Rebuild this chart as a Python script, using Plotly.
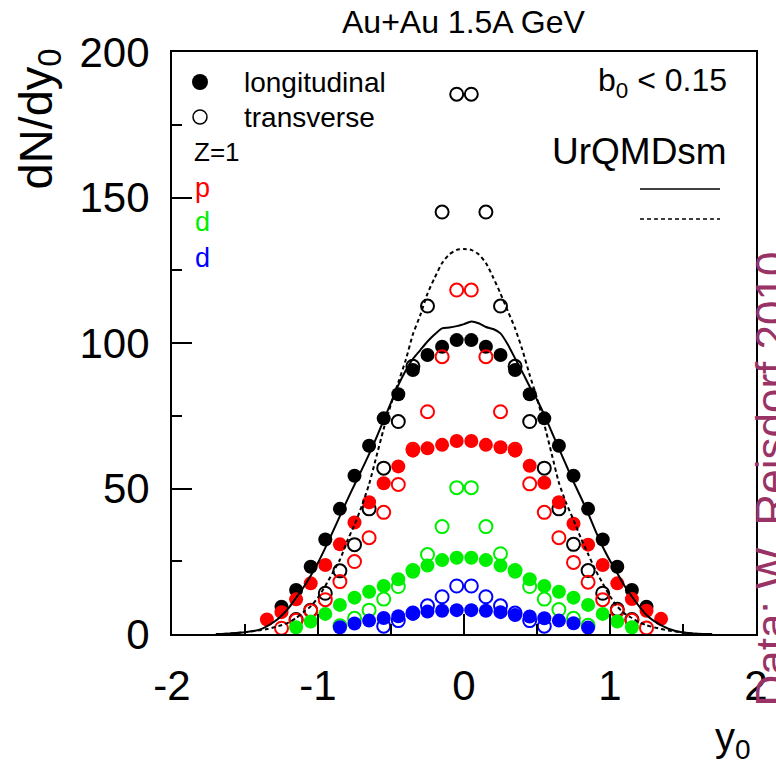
import plotly.graph_objects as go

# ---------------- data ----------------
x_black_long = [-1.25, -1.15, -1.05, -0.95, -0.85, -0.75, -0.65, -0.55, -0.45, -0.35, -0.25, -0.15, -0.05,
                0.05, 0.15, 0.25, 0.35, 0.45, 0.55, 0.65, 0.75, 0.85, 0.95, 1.05, 1.15, 1.25]
y_black_long = [9.4, 15.1, 23.1, 32.5, 43.0, 54.4, 64.7, 74.1, 82.4, 90.7, 95.9, 98.7, 101.0,
                101.0, 98.7, 95.9, 90.7, 82.4, 74.1, 64.7, 54.4, 43.0, 32.5, 23.1, 15.1, 9.4]

x_black_trans = [-1.15, -1.05, -0.95, -0.85, -0.75, -0.65, -0.55, -0.45, -0.35, -0.25, -0.15, -0.05,
                 0.05, 0.15, 0.25, 0.35, 0.45, 0.55, 0.65, 0.75, 0.85, 0.95, 1.05, 1.15]
y_black_trans = [5.0, 8.2, 14.0, 21.7, 30.7, 43.0, 57.0, 73.0, 92.0, 112.7, 145.0, 185.5,
                 185.5, 145.0, 112.7, 92.0, 73.0, 57.0, 43.0, 30.8, 21.8, 14.0, 8.5, 5.0]

x_p_long = [-1.35, -1.25, -1.15, -1.05, -0.95, -0.85, -0.75, -0.65, -0.55, -0.45, -0.35, -0.25, -0.15, -0.05,
            0.05, 0.15, 0.25, 0.35, 0.45, 0.55, 0.65, 0.75, 0.85, 0.95, 1.05, 1.15, 1.25, 1.35]
y_p_long = [5.0, 7.5, 11.9, 17.4, 23.7, 30.8, 38.3, 45.3, 51.8, 57.6, 63.0, 63.8, 65.0, 66.3,
            66.3, 65.0, 64.2, 63.0, 57.8, 52.0, 45.3, 37.9, 30.7, 23.7, 17.4, 12.0, 8.0, 5.2]

x_p_trans = [-1.25, -1.15, -1.05, -0.95, -0.85, -0.75, -0.65, -0.55, -0.45, -0.35, -0.25, -0.15, -0.05,
             0.05, 0.15, 0.25, 0.35, 0.45, 0.55, 0.65, 0.75, 0.85, 0.95, 1.05, 1.15, 1.25]
y_p_trans = [2.0, 4.7, 8.0, 11.8, 18.0, 24.9, 33.1, 41.8, 51.4, 63.5, 76.4, 95.3, 118.2,
             118.2, 95.3, 76.4, 63.5, 51.6, 41.8, 33.1, 24.6, 17.8, 11.8, 8.0, 4.7, 2.1]

x_d_long = [-1.15, -1.05, -0.95, -0.85, -0.75, -0.65, -0.55, -0.45, -0.35, -0.25, -0.15, -0.05,
            0.05, 0.15, 0.25, 0.35, 0.45, 0.55, 0.65, 0.75, 0.85, 0.95, 1.05, 1.15]
y_d_long = [2.3, 4.3, 6.9, 10.0, 12.5, 14.5, 16.5, 18.8, 21.4, 23.5, 25.4, 26.2,
            26.2, 25.4, 23.5, 21.4, 18.8, 16.5, 14.5, 12.5, 10.0, 6.9, 4.3, 2.3]

x_d_trans = [-0.85, -0.75, -0.65, -0.55, -0.45, -0.35, -0.25, -0.15, -0.05,
             0.05, 0.15, 0.25, 0.35, 0.45, 0.55, 0.65, 0.75, 0.85]
y_d_trans = [2.8, 5.4, 8.2, 12.0, 16.3, 21.8, 27.3, 36.9, 50.3,
             50.3, 36.9, 27.6, 21.8, 16.3, 12.0, 8.4, 5.4, 3.0]

x_t_long = [-0.85, -0.75, -0.65, -0.55, -0.45, -0.35, -0.25, -0.15, -0.05,
            0.05, 0.15, 0.25, 0.35, 0.45, 0.55, 0.65, 0.75, 0.85]
y_t_long = [2.3, 3.6, 4.6, 5.5, 6.1, 6.9, 7.7, 8.0, 8.2,
            8.2, 8.0, 7.5, 6.5, 6.0, 5.4, 4.6, 3.7, 2.2]

x_t_trans = [-0.55, -0.45, -0.35, -0.25, -0.15, -0.05, 0.05, 0.15, 0.25, 0.35, 0.45, 0.55]
y_t_trans = [2.7, 4.6, 7.2, 9.7, 12.8, 16.5, 16.5, 12.8, 9.7, 7.2, 4.6, 2.7]

x_model_long = [-1.7, -1.6, -1.5, -1.4, -1.3, -1.25, -1.2, -1.15, -1.1, -1.05, -1.0, -0.95, -0.9, -0.85,
                -0.8, -0.75, -0.7, -0.65, -0.6, -0.55, -0.5, -0.45, -0.4, -0.35, -0.3, -0.25, -0.2,
                -0.15, -0.1, -0.05, 0.0, 0.05, 0.1, 0.15, 0.2, 0.25, 0.3, 0.35, 0.4, 0.45, 0.5, 0.55,
                0.6, 0.65, 0.7, 0.75, 0.8, 0.85, 0.9, 0.95, 1.0, 1.05, 1.1, 1.15, 1.2, 1.25, 1.3,
                1.4, 1.5, 1.6, 1.7]
y_model_long = [0.0, 0.2, 0.6, 1.5, 4.2, 6.3, 9.0, 12.5, 16.0, 20.0, 24.5, 29.6, 35.0, 40.5,
                46.0, 51.3, 56.5, 61.8, 67.5, 73.5, 79.5, 85.5, 90.5, 94.5, 97.5, 100.5, 103.0,
                105.0, 105.3, 105.8, 106.5, 107.4, 106.8, 105.5, 104.8, 103.3, 99.5, 94.7, 90.0, 85.0, 80.5, 75.3,
                69.5, 63.8, 58.0, 52.3, 47.0, 41.5, 35.5, 30.0, 25.2, 20.9, 16.5, 12.9, 9.5, 6.5, 4.5,
                1.8, 0.5, 0.1, 0.0]

x_model_trans = [-1.65, -1.5, -1.4, -1.35, -1.25, -1.2, -1.15, -1.1, -1.05, -1.0, -0.95, -0.9, -0.85,
                 -0.8, -0.75, -0.7, -0.65, -0.6, -0.55, -0.5, -0.45, -0.4, -0.35, -0.3, -0.25, -0.2,
                 -0.15, -0.1, -0.05, 0.0, 0.05, 0.1, 0.15, 0.2, 0.25, 0.3, 0.35, 0.4, 0.45, 0.5, 0.55,
                 0.6, 0.65, 0.7, 0.75, 0.8, 0.85, 0.9, 0.95, 1.0, 1.05, 1.1, 1.15, 1.2, 1.25, 1.35,
                 1.4, 1.5, 1.6]
y_model_trans = [0.0, 0.6, 1.3, 1.7, 3.0, 4.0, 5.5, 7.5, 9.5, 12.5, 16.5, 21.0, 25.5,
                 32.0, 37.5, 44.0, 51.5, 61.0, 70.5, 79.0, 86.5, 94.0, 103.0, 109.5, 117.0, 122.5,
                 127.5, 130.5, 132.0, 132.3, 132.0, 130.5, 127.5, 122.5, 117.0, 111.0, 105.0, 97.6, 89.0, 81.0, 72.0,
                 62.0, 52.0, 45.0, 39.2, 33.0, 27.5, 22.0, 17.4, 13.0, 9.4, 7.0, 5.5, 4.0, 3.0, 1.7,
                 1.2, 0.5, 0.0]

x_ticks = [-2, -1, 0, 1, 2]
y_ticks = [0, 50, 100, 150, 200]

# ---------------- figure ----------------
W, H = 776, 767
ML, MR, MT, MB = 172, 20, 52, 133
PW, PH = W - ML - MR, H - MT - MB


def px(xp):
    return (xp - ML) / PW


def py(yp):
    return (H - MB - yp) / PH


FONT = "Liberation Sans, Arial, Helvetica, sans-serif"
BLACK, RED, GREEN, BLUE = "#000000", "#ff0000", "#00ee00", "#0000ff"

fig = go.Figure()


def add_pts(x, y, color, filled):
    if filled:
        m = dict(symbol="circle", size=14, color=color, line=dict(width=0))
    else:
        m = dict(symbol="circle-open", size=13, color=color, line=dict(width=2, color=color))
    fig.add_trace(go.Scatter(x=x, y=y, mode="markers", marker=m, showlegend=False, hoverinfo="skip"))


add_pts(x_black_trans, y_black_trans, BLACK, False)
add_pts(x_black_long, y_black_long, BLACK, True)
add_pts(x_p_trans, y_p_trans, RED, False)
add_pts(x_p_long, y_p_long, RED, True)
add_pts(x_d_trans, y_d_trans, GREEN, False)
add_pts(x_d_long, y_d_long, GREEN, True)
add_pts(x_t_trans, y_t_trans, BLUE, False)
add_pts(x_t_long, y_t_long, BLUE, True)

fig.add_trace(go.Scatter(x=x_model_long, y=y_model_long, mode="lines",
                         line=dict(color="black", width=2, shape="spline", smoothing=0.6),
                         showlegend=False, hoverinfo="skip"))
fig.add_trace(go.Scatter(x=x_model_trans, y=y_model_trans, mode="lines",
                         line=dict(color="black", width=2, dash="4px,3px", shape="spline", smoothing=0.6),
                         showlegend=False, hoverinfo="skip"))

axis_common = dict(showgrid=False, zeroline=False, showline=True, linecolor="black", linewidth=2,
                   mirror=True, ticks="inside", ticklen=20, tickwidth=2, tickcolor="black",
                   tickfont=dict(family=FONT, size=42, color="black"))

fig.update_xaxes(range=[-2, 2], tickvals=x_ticks, ticktext=[str(v) for v in x_ticks],
                 minor=dict(tickvals=[-1.5, -0.5, 0.5, 1.5], ticklen=10, tickwidth=2,
                            ticks="inside", tickcolor="black"),
                 ticklabelstandoff=14, **axis_common)
fig.update_yaxes(range=[0, 200], tickvals=y_ticks, ticktext=[str(v) for v in y_ticks],
                 minor=dict(tickvals=[25, 75, 125, 175], ticklen=10, tickwidth=2,
                            ticks="inside", tickcolor="black"),
                 ticklabelstandoff=12, **axis_common)

ann = []


def text(xp, yp, s, size, color="black", xa="left", ya="middle", angle=0):
    ann.append(dict(x=px(xp), y=py(yp), xref="paper", yref="paper", text=s, showarrow=False,
                    xanchor=xa, yanchor=ya, textangle=angle, borderpad=0,
                    font=dict(family=FONT, size=size, color=color)))


text(464, 22, "Au+Au 1.5A GeV", 32, xa="center")
text(38, 48, "dN/dy<sub>0</sub>", 47, xa="center", ya="top", angle=-90)
text(752, 740, "y<sub>0</sub>", 40, xa="right")
text(243, 82, "longitudinal", 28)
text(243, 117, "transverse", 28)
text(193, 152, "Z=1", 26)
text(194, 188, "p", 27, RED)
text(194, 222, "d", 27, GREEN)
text(194, 258, "d", 27, BLUE)
text(728, 82, "b<sub>0</sub> &lt; 0.15", 32, xa="right")
text(728, 152, "UrQMDsm", 37, xa="right")
text(745, 479, "Data: W. Reisdorf 2010", 44, color="#993366", xa="left", angle=-90)

shapes = []
for (cx, cy, filled) in [(200, 82, True), (200, 117, False)]:
    r = 8 if filled else 7
    shapes.append(dict(type="circle", xref="paper", yref="paper", xsizemode="pixel", ysizemode="pixel",
                       xanchor=px(cx), yanchor=py(cy), x0=-r, x1=r, y0=-r, y1=r,
                       fillcolor="black" if filled else "white",
                       line=dict(color="black", width=0 if filled else 1.5)))
shapes.append(dict(type="line", xref="paper", yref="paper", x0=px(640), x1=px(720), y0=py(189), y1=py(189),
                   line=dict(color="black", width=1.5)))
shapes.append(dict(type="line", xref="paper", yref="paper", x0=px(640), x1=px(720), y0=py(219), y1=py(219),
                   line=dict(color="black", width=1.5, dash="4px,3px")))

fig.update_layout(width=W, height=H, margin=dict(l=ML, r=MR, t=MT, b=MB, autoexpand=False),
                  paper_bgcolor="white", plot_bgcolor="white", annotations=ann, shapes=shapes,
                  font=dict(family=FONT))

fig.write_html("out.html")
